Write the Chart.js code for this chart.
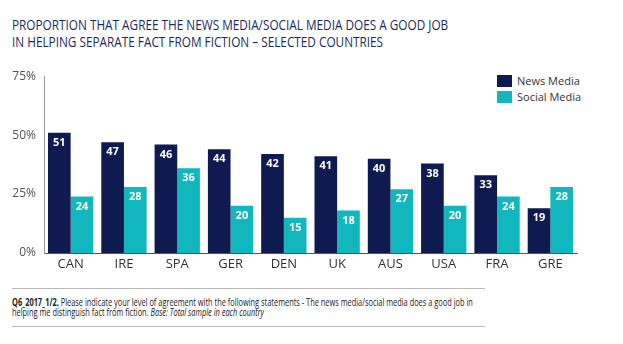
<!DOCTYPE html>
<html>
<head>
<meta charset="utf-8">
<script src="https://cdn.jsdelivr.net/npm/chart.js@4/dist/chart.umd.min.js"></script>
<style>
  body { margin: 0; background: #fff; width: 623px; height: 344px; overflow: hidden; position: relative; font-family: 'Open Sans', sans-serif; }
  .title { position: absolute; left: 12px; top: 16px; color: #1b2a5c; font-family: 'Open Sans', sans-serif; font-size: 14px; line-height: 17px; white-space: nowrap; transform-origin: 0 0; }
  .legend { position: absolute; left: 497px; top: 75px; font-size: 11px; color: #333; }
  .legend div { height: 16px; line-height: 12px; }
  .legend span { display: inline-block; width: 15px; height: 12px; vertical-align: top; margin-right: 5px; }
  .rule { position: absolute; left: 12px; width: 473px; border-top: 1px solid #bbb; }
  .note { position: absolute; left: 12px; top: 297px; font-size: 11px; line-height: 10px; color: #222; white-space: nowrap; transform-origin: 0 0; }
  #wrap { position: absolute; left: 0; top: 61px; width: 600px; height: 215px; }
</style>
</head>
<body>
<div class="title" id="title">PROPORTION THAT AGREE THE NEWS MEDIA/SOCIAL MEDIA DOES A GOOD JOB<br>IN HELPING SEPARATE FACT FROM FICTION – SELECTED COUNTRIES</div>
<div class="legend">
  <div><span style="background:#0e1a50"></span>News Media</div>
  <div><span style="background:#12b6bd"></span>Social Media</div>
</div>
<div id="wrap"><canvas id="chart"></canvas></div>
<div class="rule" style="top:288px"></div>
<div class="note" id="note"><b>Q6_2017_1/2.</b> Please indicate your level of agreement with the following statements - The news media/social media does a good job in<br>helping me distinguish fact from fiction. <i>Base: Total sample in each country</i></div>
<div class="rule" style="top:326px"></div>
<script>
var countries = ['CAN', 'IRE', 'SPA', 'GER', 'DEN', 'UK', 'AUS', 'USA', 'FRA', 'GRE'];
var newsMedia = [51, 47, 46, 44, 42, 41, 40, 38, 33, 19];
var socialMedia = [24, 28, 36, 20, 15, 18, 27, 20, 24, 28];
var yTicks = [0, 25, 50, 75];

// fit condensed-looking text to the widths in the picture
function fitWidth(id, w) {
  var el = document.getElementById(id);
  var cur = el.scrollWidth;
  el.style.transform = 'scaleX(' + (w / cur) + ')';
}
fitWidth('title', 436);
fitWidth('note', 461);

var valueLabels = {
  id: 'valueLabels',
  afterDatasetsDraw: function(chart) {
    var ctx = chart.ctx;
    ctx.save();
    ctx.fillStyle = '#fff';
    ctx.font = 'bold 11px "Open Sans", sans-serif';
    ctx.textAlign = 'center';
    ctx.textBaseline = 'middle';
    chart.data.datasets.forEach(function(ds, i) {
      chart.getDatasetMeta(i).data.forEach(function(bar, j) {
        ctx.fillText(ds.data[j], bar.x, bar.y + 10);
      });
    });
    ctx.restore();
  }
};

new Chart(document.getElementById('chart'), {
  type: 'bar',
  data: {
    labels: countries,
    datasets: [
      { label: 'News Media', data: newsMedia, backgroundColor: '#0e1a50' },
      { label: 'Social Media', data: socialMedia, backgroundColor: '#12b6bd' }
    ]
  },
  options: {
    responsive: true,
    maintainAspectRatio: false,
    animation: false,
    layout: { padding: { top: 14, right: 23, left: 0, bottom: 0 } },
    datasets: { bar: { categoryPercentage: 0.85, barPercentage: 1.0 } },
    plugins: { legend: { display: false }, tooltip: { enabled: false } },
    scales: {
      x: {
        grid: { display: false, drawTicks: false },
        border: { color: '#555', width: 1 },
        ticks: { color: '#333', font: { size: 13, family: 'Open Sans' }, padding: 3 },
        afterFit: function(s) { s.height = 23; }
      },
      y: {
        min: 0, max: 75,
        afterBuildTicks: function(s) { s.ticks = yTicks.map(function(v) { return { value: v }; }); },
        grid: { display: false, drawTicks: false },
        border: { color: '#999', width: 1 },
        ticks: { color: '#555', font: { size: 12, family: 'Open Sans' }, padding: 8,
          callback: function(v) { return v + '%'; } },
        afterFit: function(s) { s.width = 44; }
      }
    }
  },
  plugins: [valueLabels]
});
</script>
</body>
</html>
